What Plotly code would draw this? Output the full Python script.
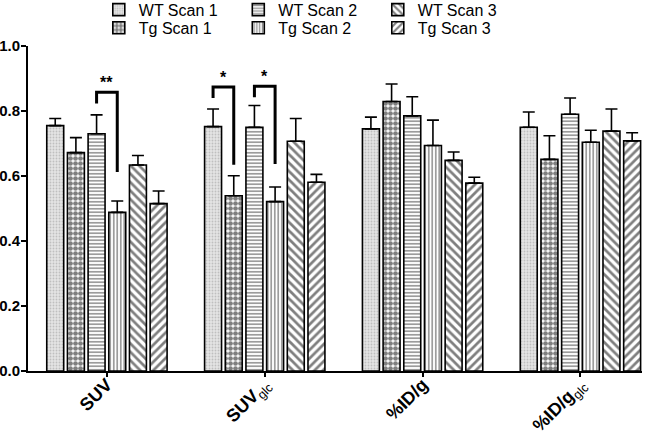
import plotly.graph_objects as go

categories = ["SUV", "SUVglc", "%ID/g", "%ID/gglc"]
tick_labels = ["<b>SUV</b>", "<b>SUV</b><sub>glc</sub>", "<b>%ID/g</b>", "<b>%ID/g</b><sub>glc</sub>"]
series_names = ["WT Scan 1", "Tg Scan 1", "WT Scan 2", "Tg Scan 2", "WT Scan 3", "Tg Scan 3"]

wt_scan1 = [0.755, 0.752, 0.745, 0.750]
tg_scan1 = [0.672, 0.539, 0.829, 0.651]
wt_scan2 = [0.730, 0.750, 0.785, 0.790]
tg_scan2 = [0.488, 0.521, 0.694, 0.704]
wt_scan3 = [0.634, 0.707, 0.648, 0.738]
tg_scan3 = [0.515, 0.581, 0.578, 0.708]

wt_scan1_err = [0.022, 0.054, 0.036, 0.047]
tg_scan1_err = [0.046, 0.062, 0.054, 0.073]
wt_scan2_err = [0.058, 0.067, 0.059, 0.050]
tg_scan2_err = [0.035, 0.045, 0.078, 0.037]
wt_scan3_err = [0.029, 0.070, 0.026, 0.068]
tg_scan3_err = [0.039, 0.024, 0.018, 0.025]

# significance brackets: category index, bar a, bar b, label
sig_category = [0, 1, 1]
sig_bar_a = [2, 0, 2]
sig_bar_b = [3, 1, 3]
sig_label = ["**", "*", "*"]
sig_top = [0.858, 0.874, 0.876]
sig_left_end = [0.823, 0.840, 0.842]
sig_right_end = [0.612, 0.635, 0.637]

values = [wt_scan1, tg_scan1, wt_scan2, tg_scan2, wt_scan3, tg_scan3]
errors = [wt_scan1_err, tg_scan1_err, wt_scan2_err, tg_scan2_err, wt_scan3_err, tg_scan3_err]

patterns = [
    dict(shape=".", fgcolor="#9a9a9a", bgcolor="#e4e4e4", size=3, solidity=0.3),
    dict(shape=".", fgcolor="#000000", bgcolor="#ffffff", size=5, solidity=0.7),
    dict(shape="-", fgcolor="#222222", bgcolor="#ffffff", size=3.5, solidity=0.45),
    dict(shape="|", fgcolor="#222222", bgcolor="#ffffff", size=3.5, solidity=0.45),
    dict(shape="\\", fgcolor="#000000", bgcolor="#ffffff", size=6, solidity=0.45),
    dict(shape="/", fgcolor="#000000", bgcolor="#ffffff", size=6, solidity=0.45),
]
legend_ids = ["legend", "legend2", "legend", "legend2", "legend", "legend2"]

FONT = "Arial, Liberation Sans, sans-serif"
BARGAP = 0.214
BARGROUPGAP = 0.18

fig = go.Figure()
for i, name in enumerate(series_names):
    fig.add_trace(go.Bar(
        x=list(range(len(categories))),
        y=values[i],
        name=name,
        legend=legend_ids[i],
        marker=dict(color=patterns[i]["bgcolor"], pattern=patterns[i],
                    line=dict(color="black", width=1.6)),
        error_y=dict(type="data", array=errors[i], arrayminus=[0] * len(errors[i]),
                     symmetric=False, color="black", thickness=1.6, width=6),
    ))

n = len(series_names)
slot = (1 - BARGAP) / n
shapes = []
annotations = []
for k in range(len(sig_category)):
    xa = sig_category[k] + (sig_bar_a[k] - (n - 1) / 2) * slot
    xb = sig_category[k] + (sig_bar_b[k] - (n - 1) / 2) * slot
    shapes.append(dict(
        type="path", xref="x", yref="y",
        path=f"M {xa},{sig_left_end[k]} L {xa},{sig_top[k]} L {xb},{sig_top[k]} L {xb},{sig_right_end[k]}",
        line=dict(color="black", width=3),
    ))
    annotations.append(dict(
        x=(xa + xb) / 2, y=sig_top[k], xref="x", yref="y", text=f"<b>{sig_label[k]}</b>",
        showarrow=False, yanchor="bottom", yshift=-1,
        font=dict(family=FONT, size=16, color="black"),
    ))

legend_common = dict(
    orientation="h", xanchor="left", yanchor="top",
    entrywidth=94.5, itemclick=False,
    font=dict(family=FONT, size=16, color="black"),
    bgcolor="rgba(0,0,0,0)",
)

fig.update_layout(
    width=660, height=431,
    margin=dict(l=28, r=18, t=46, b=60, autoexpand=False),
    paper_bgcolor="white", plot_bgcolor="white",
    barmode="group", bargap=BARGAP, bargroupgap=BARGROUPGAP,
    font=dict(family=FONT, color="black"),
    showlegend=True,
    legend=dict(x=0.1153, y=1.164, **legend_common),
    legend2=dict(x=0.1153, y=1.108, **legend_common),
    xaxis=dict(
        tickmode="array", tickvals=list(range(len(categories))), ticktext=tick_labels,
        range=[-0.5, 3.39], tickangle=-45,
        showline=True, linecolor="black", linewidth=2,
        ticks="outside", ticklen=4, tickwidth=1.5, tickcolor="black",
        tickfont=dict(family=FONT, size=18, color="black"),
        ticklabelstandoff=-10,
        showgrid=False, zeroline=False,
    ),
    yaxis=dict(
        range=[0, 1.0], dtick=0.2, tickformat=".1f",
        showline=True, linecolor="black", linewidth=2,
        ticks="outside", ticklen=5, tickwidth=1.5, tickcolor="black",
        tickfont=dict(family=FONT, size=15, color="black", weight="bold"),
        ticklabelstandoff=-2,
        showgrid=False, zeroline=False,
    ),
    shapes=shapes,
    annotations=annotations,
)

fig.write_html("out.html", config={"displayModeBar": False},
               post_script="document.body.style.margin='0px';")
